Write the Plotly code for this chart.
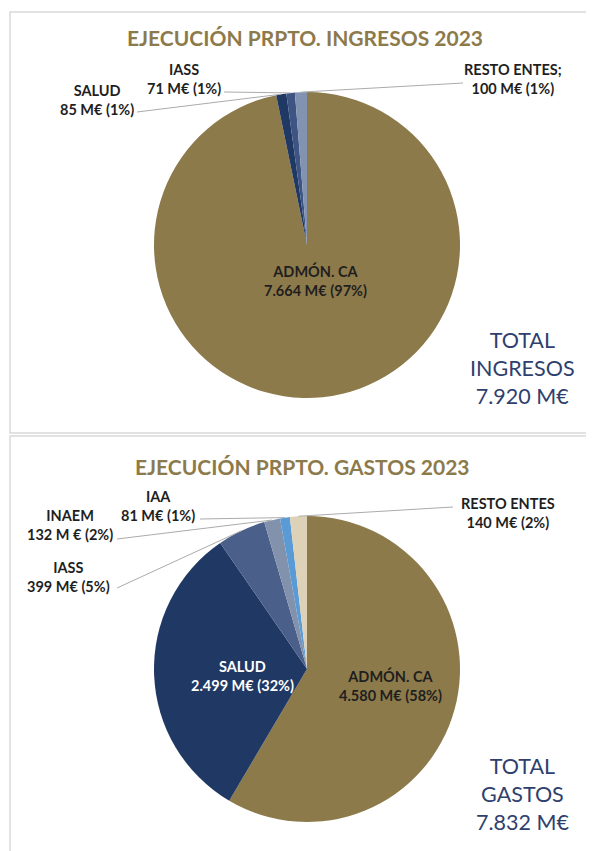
import math
import plotly.graph_objects as go

# ---------------- data ----------------
ing_labels = ["ADMÓN. CA", "SALUD", "IASS", "RESTO ENTES;"]
ing_values = [7664, 85, 71, 100]
ing_units = ["M€", "M€", "M€", "M€"]
ing_total = 7920

gas_labels = ["ADMÓN. CA", "SALUD", "IASS", "INAEM", "IAA", "RESTO ENTES"]
gas_values = [4580, 2499, 399, 132, 81, 140]
gas_units = ["M€", "M€", "M€", "M €", "M€", "M€"]
gas_total = 7832

title_ing = "EJECUCIÓN PRPTO. INGRESOS 2023"
title_gas = "EJECUCIÓN PRPTO. GASTOS 2023"
total_ing_text = ["TOTAL", "INGRESOS"]
total_gas_text = ["TOTAL", "GASTOS"]

# ---------------- style ----------------
OFF = 8                     # page body margin of the browser
W, H = 594 - OFF, 851 - OFF
GOLD = "#8D7A4B"
NAVY_TXT = "#2F3F6E"
LABEL_C = "#1F1F1F"
LEADER_C = "#ABABAB"
ing_colors = [GOLD, "#1F3864", "#3E5483", "#8193B0"]
gas_colors = [GOLD, "#203864", "#4A5F89", "#8292AC", "#5B9BD5", "#DDD1B8"]
FONT = "Lato"
R = 153
LAB_SIZE = 14.5


def px(x):
    return (x - OFF) / W


def py(y):
    return 1 - (y - OFF) / H


def fmt(v):
    return f"{v:,}".replace(",", ".")


def label_text(name, v, unit, tot):
    pct = round(v / tot * 100)
    return f"<b>{name}<br>{fmt(v)} {unit} ({pct}%)</b>"


def rim_points(values, cx, cy, r):
    tot = sum(values)
    pts = []
    cum = 0
    for v in values:
        mid = (cum + v / 2) / tot * 2 * math.pi
        pts.append((cx + r * math.sin(mid), cy - r * math.cos(mid)))
        cum += v
    return pts


fig = go.Figure()

centers = {"ing": (307, 245), "gas": (307, 669)}

for key, vals, labs, cols in [("ing", ing_values, ing_labels, ing_colors),
                              ("gas", gas_values, gas_labels, gas_colors)]:
    cx, cy = centers[key]
    fig.add_trace(go.Pie(
        labels=labs, values=vals, sort=False, direction="clockwise", rotation=0,
        marker=dict(colors=cols, line=dict(width=0)),
        textinfo="none", hoverinfo="label+value+percent", showlegend=False,
        domain=dict(x=[px(cx - R), px(cx + R)], y=[py(cy + R), py(cy - R)]),
    ))

shapes = []
# panel borders
shapes.append(dict(type="rect", xref="paper", yref="paper", x0=px(10), x1=px(620),
                   y0=py(433), y1=py(12), line=dict(color="#D9D9D9", width=1.5)))
shapes.append(dict(type="rect", xref="paper", yref="paper", x0=px(10), x1=px(620),
                   y0=py(900), y1=py(436), line=dict(color="#D9D9D9", width=1.5)))

annotations = []


def add_text(x, y, text, size=LAB_SIZE, color=LABEL_C):
    annotations.append(dict(xref="paper", yref="paper", x=px(x), y=py(y), text=text,
                            showarrow=False, xanchor="center", yanchor="middle",
                            align="center",
                            font=dict(family=FONT, size=size, color=color)))


# titles
add_text(305, 38, f"<b>{title_ing}</b>", size=21, color=GOLD)
add_text(302, 466, f"<b>{title_gas}</b>", size=21, color=GOLD)

# totals
add_text(522, 368, "<br>".join(total_ing_text + [f"{fmt(ing_total)} M€"]), size=21.5, color=NAVY_TXT)
add_text(522, 794, "<br>".join(total_gas_text + [f"{fmt(gas_total)} M€"]), size=21.5, color=NAVY_TXT)

# ---- ingresos labels ----
tot_i = sum(ing_values)
rim_i = rim_points(ing_values, *centers["ing"], R)
lab_pos_i = [(315, 281), (97, 100), (184, 79), (513, 79)]
leader_start_i = [None, (137, 112), (224, 92), (463, 83)]
for i in range(len(ing_values)):
    add_text(*lab_pos_i[i], label_text(ing_labels[i], ing_values[i], ing_units[i], tot_i))
    if leader_start_i[i]:
        sx, sy = leader_start_i[i]
        ex, ey = rim_i[i]
        shapes.append(dict(type="line", xref="paper", yref="paper", x0=px(sx), y0=py(sy),
                           x1=px(ex), y1=py(ey), line=dict(color=LEADER_C, width=1)))

# ---- gastos labels ----
tot_g = sum(gas_values)
rim_g = rim_points(gas_values, *centers["gas"], R)
lab_pos_g = [(390, 685), (242, 676), (68, 577), (70, 525), (158, 506), (508, 513)]
label_col_g = [LABEL_C, "white", LABEL_C, LABEL_C, LABEL_C, LABEL_C]
leader_start_g = [None, None, (117, 588), (117, 539), (200, 519), (453, 507)]
for i in range(len(gas_values)):
    add_text(*lab_pos_g[i], label_text(gas_labels[i], gas_values[i], gas_units[i], tot_g),
             color=label_col_g[i])
    if leader_start_g[i]:
        sx, sy = leader_start_g[i]
        ex, ey = rim_g[i]
        shapes.append(dict(type="line", xref="paper", yref="paper", x0=px(sx), y0=py(sy),
                           x1=px(ex), y1=py(ey), line=dict(color=LEADER_C, width=1)))

fig.update_layout(
    width=W, height=H, margin=dict(l=0, r=0, t=0, b=0),
    paper_bgcolor="white", plot_bgcolor="white",
    shapes=shapes, annotations=annotations,
    font=dict(family=FONT),
)

fig.write_html("out.html")
